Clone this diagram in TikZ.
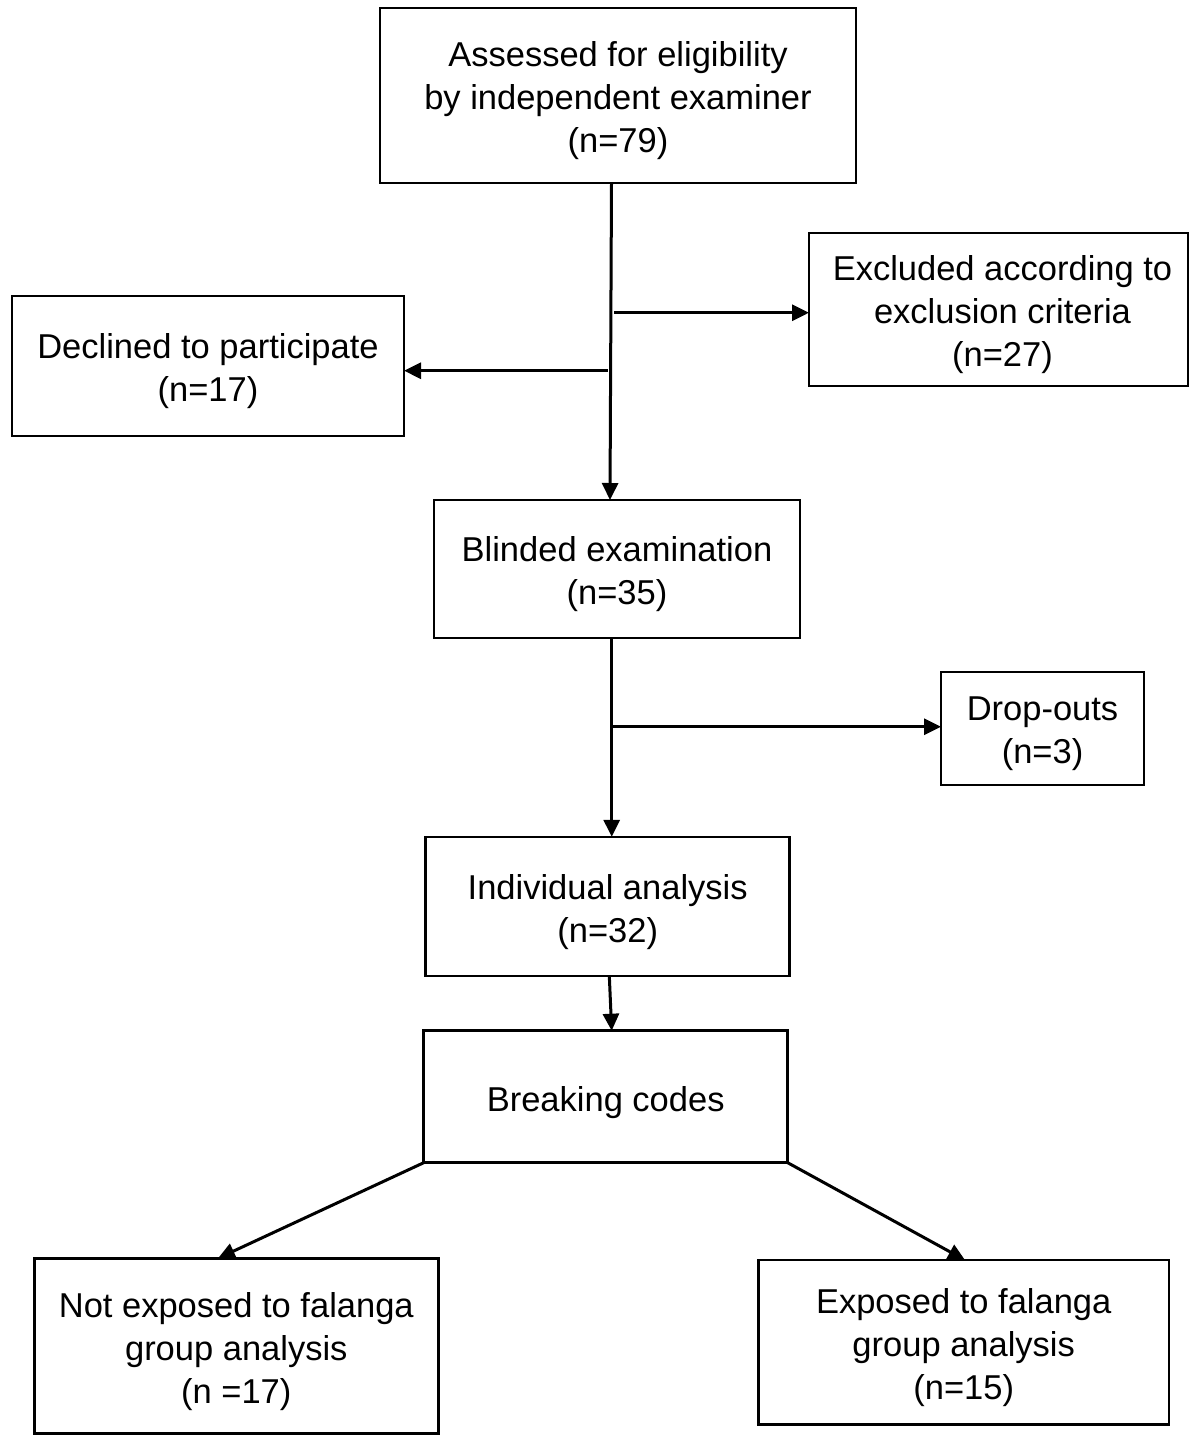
\documentclass[tikz,border=0pt]{standalone}
\usepackage{fontspec}
\setmainfont{Liberation Sans}
\usetikzlibrary{arrows.meta}
\begin{document}
\begin{tikzpicture}[x=1pt,y=-1pt,
  box/.style={draw=black, line width=2.5pt, fill=white, inner sep=0pt, outer sep=0pt},
  txt/.style={align=center, inner sep=0pt, yshift=-5.5pt, font=\fontsize{34.5}{43}\selectfont},
  conn/.style={line width=3pt, -{Triangle[length=17pt,width=16pt]}}]
\useasboundingbox (0,0) rectangle (1200,1443);
\node[box, minimum width=476, minimum height=175,
  label={[txt]center:{Assessed for eligibility\\by independent examiner\\(n=79)}}] (top) at (618,95.5) {};
\node[box, minimum width=379, minimum height=153,
  label={[txt, xshift=4pt]center:{Excluded according to\\exclusion criteria\\(n=27)}}] (excl) at (998.5,309.5) {};
\node[box, minimum width=392, minimum height=140,
  label={[txt]center:{Declined to participate\\(n=17)}}] (decl) at (208,366) {};
\node[box, minimum width=366, minimum height=138,
  label={[txt]center:{Blinded examination\\(n=35)}}] (blind) at (617,569) {};
\node[box, minimum width=203, minimum height=113,
  label={[txt]center:{Drop-outs\\(n=3)}}] (drop) at (1042.5,728.5) {};
\node[box, minimum width=364, minimum height=139,
  label={[txt]center:{Individual analysis\\(n=32)}}] (indiv) at (607.7,906.3) {};
\node[box, minimum width=364, minimum height=132,
  label={[txt]center:{Breaking codes}}] (brk) at (605.7,1096.7) {};
\node[box, minimum width=404, minimum height=175,
  label={[txt]center:{Not exposed to falanga\\group analysis\\(n =17)}}] (notexp) at (236.3,1345.8) {};
\node[box, minimum width=410.7, minimum height=164.3,
  label={[txt]center:{Exposed to falanga\\group analysis\\(n=15)}}] (exp) at (963.7,1342.2) {};
% connectors
\draw[conn] ([xshift=-6.5pt]top.south) -- ([xshift=-7pt]blind.north);
\coordinate (b1) at (614,312.7);
\draw[conn] (b1) -- (b1 -| excl.west);
\coordinate (b2) at (607.7,370.7);
\draw[conn] (b2) -- (b2 -| decl.east);
\draw[conn] ([xshift=-5.3pt]blind.south) -- ([xshift=-5.3pt]blind.south |- indiv.north);
\coordinate (b3) at (611.7,726.7);
\draw[conn] (b3) -- (b3 -| drop.west);
\draw[conn] ([xshift=1.6pt]indiv.south) -- ([xshift=6pt]brk.north);
\draw[conn] (brk.south west) -- ([xshift=-18.3pt]notexp.north);
\draw[conn] (brk.south east) -- ([xshift=1.3pt]exp.north);
\end{tikzpicture}
\end{document}
